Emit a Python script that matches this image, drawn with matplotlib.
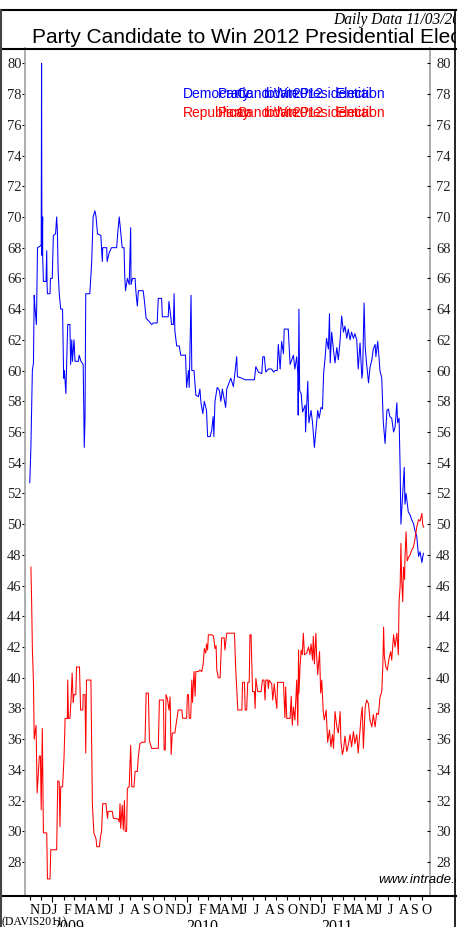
import numpy as np
import matplotlib
matplotlib.use("Agg")
import matplotlib.pyplot as plt
import matplotlib.dates as mdates
from matplotlib.ticker import NullFormatter

# daily contract prices, days counted from 2008-11-01
START = np.datetime64("2008-11-01")

dem_day = [0, 3, 7, 10, 12, 14, 18, 21, 28, 31, 32, 33, 35, 35, 37, 44, 46, 47, 48, 55,
           56, 61, 64, 70, 73, 75, 77, 80, 84, 89, 92, 94, 98, 103, 109, 111, 114, 116, 120, 123,
           132, 134, 139, 145, 148, 150, 152, 163, 168, 172, 177, 180, 184, 193, 197, 198, 209, 210, 216, 222,
           236, 239, 243, 247, 251, 256, 258, 260, 265, 270, 274, 275, 279, 286, 288, 292, 295, 308, 311, 316,
           324, 331, 336, 346, 349, 358, 360, 376, 378, 383, 385, 390, 392, 394, 399, 406, 410, 423, 426, 431,
           433, 438, 440, 446, 451, 458, 462, 465, 470, 474, 480, 483, 490, 494, 498, 500, 503, 509, 515, 519,
           523, 532, 535, 546, 553, 562, 564, 576, 585, 610, 614, 621, 630, 633, 637, 641, 648, 657, 662, 666,
           672, 675, 680, 684, 689, 691, 702, 707, 716, 720, 725, 728, 729, 731, 733, 737, 741, 748, 749, 755,
           758, 764, 768, 773, 777, 782, 786, 791, 795, 798, 802, 806, 811, 814, 816, 820, 825, 829, 834, 838,
           843, 847, 852, 856, 861, 865, 870, 874, 879, 883, 888, 892, 897, 902, 904, 908, 911, 915, 920, 924,
           929, 933, 938, 940, 945, 949, 951, 956, 960, 965, 970, 974, 978, 983, 988, 992, 997, 999, 1003, 1006,
           1008, 1012, 1015, 1017, 1019, 1022, 1028, 1033, 1037, 1042, 1046, 1051, 1056, 1060, 1065, 1069]
dem_pct = [52.7, 55.0, 60.0, 60.5, 64.9, 64.1, 63.0, 68.0, 68.1, 68.2, 80.0, 67.5, 70.0, 67.4, 65.8, 65.8, 67.8, 65.5, 65.0, 65.0,
           66.0, 66.0, 68.8, 68.9, 70.0, 69.0, 66.5, 65.0, 64.0, 64.0, 59.5, 60.0, 58.5, 63.0, 63.0, 60.4, 62.0, 60.6, 62.0, 60.6,
           60.6, 61.0, 60.6, 60.4, 55.0, 56.9, 65.0, 65.0, 67.0, 70.0, 70.4, 70.0, 68.9, 68.8, 67.1, 68.0, 68.0, 67.1, 67.7, 68.0,
           68.0, 69.0, 70.0, 69.0, 68.0, 68.0, 66.1, 65.2, 66.0, 65.6, 69.3, 65.6, 66.0, 66.0, 65.2, 64.2, 65.2, 65.2, 64.6, 63.4,
           63.2, 63.0, 63.1, 63.1, 64.7, 64.7, 63.5, 63.5, 64.5, 63.5, 63.0, 63.0, 65.0, 62.6, 61.6, 61.6, 61.0, 61.0, 58.9, 60.0,
           58.9, 64.9, 60.0, 60.0, 58.4, 58.3, 58.8, 57.9, 57.2, 58.0, 57.4, 55.7, 55.7, 56.1, 57.0, 55.7, 58.0, 58.9, 58.7, 58.0,
           58.8, 57.6, 58.8, 59.5, 58.95, 60.9, 59.6, 59.5, 59.4, 59.4, 60.25, 59.9, 59.8, 60.9, 60.9, 59.9, 60.1, 60.1, 59.9, 60.0,
           60.0, 61.7, 60.1, 61.9, 61.1, 62.7, 62.7, 60.4, 61.0, 60.1, 60.9, 59.8, 57.1, 64.0, 58.7, 58.5, 57.3, 57.75, 56.0, 59.3,
           56.6, 57.4, 56.6, 55.0, 56.1, 57.4, 56.9, 57.6, 57.5, 59.8, 60.8, 62.1, 61.4, 63.7, 60.5, 62.5, 61.3, 60.5, 61.5, 60.7,
           62.0, 63.55, 62.5, 62.9, 62.1, 62.7, 62.0, 62.5, 62.1, 62.4, 62.0, 60.1, 61.8, 59.5, 59.9, 64.4, 61.5, 60.4, 59.2, 60.2,
           60.7, 61.4, 61.7, 60.9, 61.9, 60.7, 60.0, 59.5, 56.7, 55.25, 57.4, 57.5, 57.0, 56.9, 56.0, 56.3, 57.9, 56.6, 56.9, 53.5,
           50.0, 51.6, 52.9, 53.7, 51.3, 52.0, 50.8, 50.6, 50.3, 50.05, 49.6, 49.2, 47.9, 48.2, 47.5, 48.1]

rep_day = [3, 5, 7, 10, 12, 17, 20, 26, 29, 31, 34, 37, 46, 48, 55, 57, 73, 76, 80, 82,
           84, 89, 93, 96, 102, 103, 105, 109, 112, 115, 118, 120, 125, 127, 135, 138, 144, 145, 150, 152,
           154, 166, 170, 174, 180, 182, 189, 192, 195, 198, 207, 211, 213, 224, 227, 240, 243, 245, 247, 251,
           254, 257, 259, 263, 265, 270, 274, 277, 283, 286, 292, 295, 299, 304, 313, 316, 322, 325, 331, 349,
           352, 363, 365, 368, 370, 374, 378, 381, 384, 387, 394, 399, 403, 413, 415, 426, 428, 431, 433, 437,
           440, 442, 446, 449, 451, 458, 462, 467, 471, 474, 478, 480, 483, 485, 494, 499, 503, 506, 508, 512,
           517, 521, 528, 530, 535, 556, 559, 565, 576, 578, 583, 585, 589, 592, 596, 598, 601, 605, 610, 612,
           614, 619, 628, 632, 636, 639, 641, 646, 648, 650, 657, 660, 664, 667, 671, 673, 689, 693, 695, 698,
           707, 710, 713, 716, 720, 725, 728, 730, 731, 734, 737, 740, 743, 746, 752, 757, 761, 764, 768, 770,
           773, 777, 779, 782, 787, 790, 793, 797, 800, 805, 809, 814, 818, 822, 825, 829, 834, 838, 843, 845,
           849, 852, 856, 861, 865, 870, 874, 879, 883, 888, 892, 895, 900, 903, 906, 911, 915, 920, 924, 929,
           933, 938, 942, 947, 951, 956, 959, 961, 963, 967, 971, 976, 980, 983, 988, 992, 997, 1001, 1003, 1006,
           1008, 1010, 1013, 1015, 1018, 1019, 1022, 1025, 1028, 1033, 1037, 1042, 1046, 1051, 1056, 1060, 1065, 1067, 1070]
rep_pct = [47.2, 45.0, 41.9, 39.7, 36.0, 36.9, 32.5, 34.9, 34.9, 31.4, 36.7, 29.9, 29.9, 26.9, 26.9, 28.8, 28.8, 33.3, 33.2, 30.3,
           32.9, 32.9, 34.8, 37.35, 37.35, 39.85, 37.35, 37.35, 38.5, 40.3, 38.4, 38.9, 38.9, 40.7, 40.7, 37.9, 37.9, 38.9, 38.9, 35.1,
           39.85, 39.85, 31.8, 29.9, 29.5, 29.0, 29.0, 29.65, 30.0, 31.8, 31.8, 30.85, 31.3, 31.3, 30.85, 30.8, 30.6, 31.8, 30.2, 31.7,
           30.1, 32.0, 30.0, 30.0, 32.8, 32.9, 35.6, 32.9, 32.9, 33.9, 33.9, 34.9, 35.7, 35.8, 35.8, 39.0, 39.0, 35.9, 35.4, 35.4,
           38.55, 38.55, 35.3, 35.3, 38.9, 38.6, 37.9, 38.75, 35.0, 36.4, 36.4, 37.25, 37.9, 37.9, 37.36, 37.36, 38.9, 38.9, 37.36, 37.36,
           39.85, 38.4, 40.4, 38.8, 40.4, 40.4, 40.5, 40.4, 40.9, 41.9, 41.6, 42.2, 41.8, 42.8, 42.8, 42.7, 41.9, 42.1, 40.5, 40.0,
           40.0, 42.6, 42.6, 41.8, 42.9, 42.9, 40.7, 37.9, 37.9, 39.7, 39.7, 37.9, 37.9, 39.7, 39.7, 42.8, 42.8, 39.1, 39.1, 38.0,
           39.96, 39.1, 39.1, 39.85, 39.85, 38.55, 39.85, 39.85, 39.3, 39.85, 39.6, 38.55, 39.6, 38.8, 38.0, 39.7, 39.7, 37.4, 39.4, 37.35,
           37.35, 38.8, 36.9, 38.1, 37.25, 39.85, 36.9, 41.8, 39.0, 40.7, 41.8, 41.5, 42.9, 41.5, 41.6, 42.0, 41.5, 42.2, 41.15, 42.7,
           40.9, 42.9, 41.5, 40.2, 41.7, 39.0, 39.85, 37.8, 37.25, 37.9, 35.8, 36.6, 35.5, 36.3, 35.4, 37.8, 36.8, 36.4, 37.8, 35.9,
           35.0, 35.3, 36.2, 35.2, 35.6, 36.3, 35.5, 36.5, 35.7, 36.3, 35.1, 36.0, 37.5, 38.1, 35.4, 38.1, 38.55, 38.3, 37.25, 36.8,
           37.6, 36.8, 37.7, 37.6, 38.7, 39.1, 40.9, 43.3, 41.4, 40.7, 40.5, 41.3, 41.7, 41.15, 42.8, 42.0, 42.9, 41.5, 45.0, 46.0,
           48.75, 46.4, 44.95, 47.2, 46.4, 47.8, 49.5, 47.6, 47.8, 48.0, 48.3, 48.5, 49.0, 49.8, 50.3, 50.2, 50.7, 50.0, 49.8]

y_ticks = list(range(28, 81, 2))
month_letters = "JFMAMJJASOND"
legend_words = ["Party", "Candidate", "to", "Win", "2012", "Presidential", "Election"]

W, H = 466, 927
SERIF = ["Liberation Serif", "DejaVu Serif"]
SANS = ["Liberation Sans", "DejaVu Sans"]

fig = plt.figure(figsize=(W / 100, H / 100), dpi=100)
fig.patch.set_facecolor("white")

# plot area in pixels: x 25..430, y 48..896
ax = fig.add_axes([25 / W, (H - 896) / H, 405 / W, 848 / H])
dem_x = START + np.array(dem_day).astype("timedelta64[D]")
rep_x = START + np.array(rep_day).astype("timedelta64[D]")
ax.plot(dem_x, dem_pct, color="#0000ff", lw=0.75, zorder=3)
ax.plot(rep_x, rep_pct, color="#ff0000", lw=0.75, zorder=3)

ax.set_xlim(np.datetime64("2008-10-19"), np.datetime64("2011-10-24"))
ax.set_ylim(25.79, 81.0)
for side in ("top", "bottom"):
    ax.spines[side].set_visible(False)
for side in ("left", "right"):
    ax.spines[side].set_color("#a0a0a0")
    ax.spines[side].set_linewidth(1.2)

ax.set_yticks(y_ticks)
ax.set_yticklabels([str(v) for v in y_ticks], family=SERIF, fontsize=10.5, color="#222222")
ax.tick_params(axis="y", direction="out", length=2, width=0.8, pad=0.5, left=True, right=False)

ax.xaxis.set_major_locator(mdates.YearLocator())
ax.xaxis.set_minor_locator(mdates.MonthLocator())
ax.xaxis.set_major_formatter(NullFormatter())
ax.tick_params(axis="x", which="major", direction="out", length=4, width=0.8, color="black")
ax.tick_params(axis="x", which="minor", direction="out", length=3, width=0.8, color="black")

# right-hand price scale
ax2 = ax.twinx()
ax2.set_ylim(ax.get_ylim())
ax2.set_yticks(y_ticks)
ax2.set_yticklabels([str(v) for v in y_ticks], family=SERIF, fontsize=10.5, color="#222222")
ax2.tick_params(axis="y", direction="in", length=2, width=0.8, pad=4.5)
for side in ax2.spines:
    ax2.spines[side].set_visible(False)

# month letters and years under the axis
xt = ax.get_xaxis_transform()
months = np.arange(np.datetime64("2008-11"), np.datetime64("2011-11"), dtype="datetime64[M]")
for m in months:
    idx = int(str(m)[5:7]) - 1
    d = m.astype("datetime64[D]")
    ax.text(d, -18 / 848, month_letters[idx], transform=xt, ha="left", va="baseline",
            family=SERIF, fontsize=10, clip_on=False)
    if idx == 0:
        ax.text(d, -35 / 848, str(m)[:4], transform=xt, ha="left", va="baseline",
                family=SERIF, fontsize=11.5, clip_on=False)

# legend words drawn on top of each other, as the charting tool lays them out
word_x = [218, 236, 264, 274, 292, 300, 336]
for label, color, base in (("Democratic", "#0000ff", 98), ("Republican", "#ff0000", 117)):
    fig.text(183 / W, (H - base) / H, label, color=color, family=SANS, fontsize=10, va="baseline")
    for wx, word in zip(word_x, legend_words):
        fig.text(wx / W, (H - base) / H, word, color=color, family=SANS, fontsize=10, va="baseline")

# frame, header and footer, clipped at the right edge of the page
deco = fig.add_axes([0, 0, 456 / W, 1])
deco.set_xlim(0, 456)
deco.set_ylim(H, 0)
deco.axis("off")
deco.patch.set_alpha(0)
deco.plot([0, 456], [10, 10], color="black", lw=1.5, clip_on=False)
deco.plot([0, 456], [48.5, 48.5], color="black", lw=1.5, clip_on=False)
deco.plot([0, 456], [896, 896], color="black", lw=1.5, clip_on=False)
deco.plot([0.8, 0.8], [10, H], color="#444444", lw=1.5, clip_on=False)
deco.plot([455.3, 455.3], [10, H], color="black", lw=1.2, clip_on=False)

deco.text(333, 24, "Daily Data 11/03/2011", family=SERIF, style="italic", fontsize=11.2,
          va="baseline", ha="left", clip_on=True)
deco.text(32, 42.5, "Party Candidate to Win 2012 Presidential Election", family=SANS,
          fontsize=15, va="baseline", ha="left", clip_on=True)
deco.text(378, 883, "www.intrade.com", family=SANS, style="italic", fontsize=9.6,
          va="baseline", ha="left", clip_on=True)
deco.text(2, 925, "(DAVIS2011)", family=SERIF, fontsize=8.5, va="baseline", ha="left", clip_on=True)

fig.savefig("out.png", dpi=100)
